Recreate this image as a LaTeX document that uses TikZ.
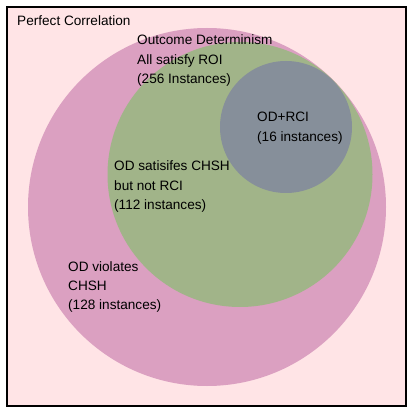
\documentclass[tikz,border=0pt]{standalone}
\usepackage{fontspec}
\setmainfont{Liberation Sans}
\definecolor{bgpink}{RGB}{255,228,230}
\definecolor{mauve}{RGB}{219,160,193}
\definecolor{sage}{RGB}{161,180,137}
\definecolor{slate}{RGB}{134,143,154}
\tikzset{
  lbl/.style={anchor=base west, inner sep=0pt, align=left, text=black,
    font=\fontsize{13.6}{19.3}\selectfont},
  region/.style={draw=none}
}
\begin{document}
\begin{tikzpicture}[x=1pt,y=-1pt]
\useasboundingbox (0,0) rectangle (415,414);
\fill[white] (0,0) rectangle (415,414);
\draw[line width=2pt, fill=bgpink] (7,7) rectangle (406,406);
\fill[mauve] (207,207) circle[radius=179pt];
\fill[sage] (240,174.5) circle[radius=132.5pt];
\fill[slate] (286,127) circle[radius=66pt];
\node[lbl] (pc) at (17,26) {Perfect Correlation};
\node[lbl] (od) at (137,83.6) {Outcome Determinism\\All satisfy ROI\\(256 Instances)};
\node[lbl] (rci) at (257,141.3) {OD+RCI\\(16 instances)};
\node[lbl] (sat) at (114,209.6) {OD satisifes CHSH\\but not RCI\\(112 instances)};
\node[lbl] (vio) at (68,309.6) {OD violates\\CHSH\\(128 instances)};
\end{tikzpicture}
\end{document}
